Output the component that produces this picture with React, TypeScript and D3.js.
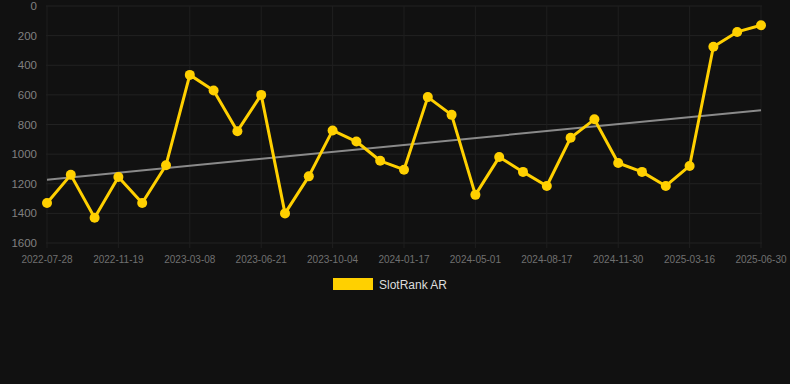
import React, { useEffect } from "react";
import * as d3 from "d3";

const categories: string[] = [
  "2022-07-28", "2022-09-05", "2022-10-12", "2022-11-19", "2022-12-24", "2023-01-30",
  "2023-03-08", "2023-04-12", "2023-05-17", "2023-06-21", "2023-07-26", "2023-08-30",
  "2023-10-04", "2023-11-08", "2023-12-13", "2024-01-17", "2024-02-21", "2024-03-27",
  "2024-05-01", "2024-06-06", "2024-07-12", "2024-08-17", "2024-09-21", "2024-10-26",
  "2024-11-30", "2025-01-04", "2025-02-09", "2025-03-16", "2025-04-20", "2025-05-25",
  "2025-06-30",
];

const rankValues: number[] = [
  1330, 1140, 1430, 1155, 1330, 1075, 465, 570, 845, 600, 1400, 1150, 840, 915, 1045,
  1105, 615, 735, 1275, 1020, 1120, 1215, 890, 765, 1060, 1120, 1215, 1080, 275, 175, 130,
];

const yTicks: number[] = [0, 200, 400, 600, 800, 1000, 1200, 1400, 1600];
const seriesName = "SlotRank AR";

export default function App() {
  useEffect(() => {
    document.body.style.margin = "0";
    document.body.style.background = "#111111";
  }, []);

  const W = 790;
  const H = 384;
  const x = d3.scalePoint<number>().domain(d3.range(categories.length)).range([47, 761]);
  const y = d3.scaleLinear().domain([0, 1600]).range([6, 243]);

  const n = rankValues.length;
  const mx = d3.mean(d3.range(n)) as number;
  const my = d3.mean(rankValues) as number;
  let sxy = 0, sxx = 0;
  rankValues.forEach((v, i) => { sxy += (i - mx) * (v - my); sxx += (i - mx) * (i - mx); });
  const slope = sxy / sxx;
  const icpt = my - slope * mx;

  const line = d3.line<number>().x((_, i) => x(i) as number).y((v) => y(v));
  const trend = [icpt, icpt + slope * (n - 1)];
  const font = "Liberation Sans, Arial, sans-serif";

  return (
    <svg width={W} height={H} style={{ display: "block", background: "#111111" }} fontFamily={font}>
      <rect width={W} height={H} fill="#111111" />
      {yTicks.map((t) => (
        <g key={t}>
          <line x1={46} x2={762} y1={y(t)} y2={y(t)} stroke="#222222" strokeWidth={1} />
          <text x={37} y={y(t) + 4} fontSize={11.5} fill="#808080" textAnchor="end">{t}</text>
        </g>
      ))}
      {categories.map((c, i) =>
        i % 3 === 0 ? (
          <g key={c}>
            <line x1={x(i)} x2={x(i)} y1={6} y2={248} stroke="#1f1f1f" strokeWidth={1} />
            <text x={x(i)} y={263} fontSize={10} fill="#707070" textAnchor="middle">{c}</text>
          </g>
        ) : null
      )}
      <line x1={x(0)} x2={x(n - 1)} y1={y(trend[0])} y2={y(trend[1])} stroke="#8a8a8a" strokeWidth={2} />
      <path d={line(rankValues) || ""} fill="none" stroke="#FFD000" strokeWidth={3} strokeLinejoin="round" />
      {rankValues.map((v, i) => (
        <circle key={i} cx={x(i)} cy={y(v)} r={5} fill="#FFD000" />
      ))}
      <rect x={333} y={278} width={40} height={12} fill="#FFD000" />
      <text x={379} y={288.5} fontSize={12} fill="#dddddd">{seriesName}</text>
    </svg>
  );
}
